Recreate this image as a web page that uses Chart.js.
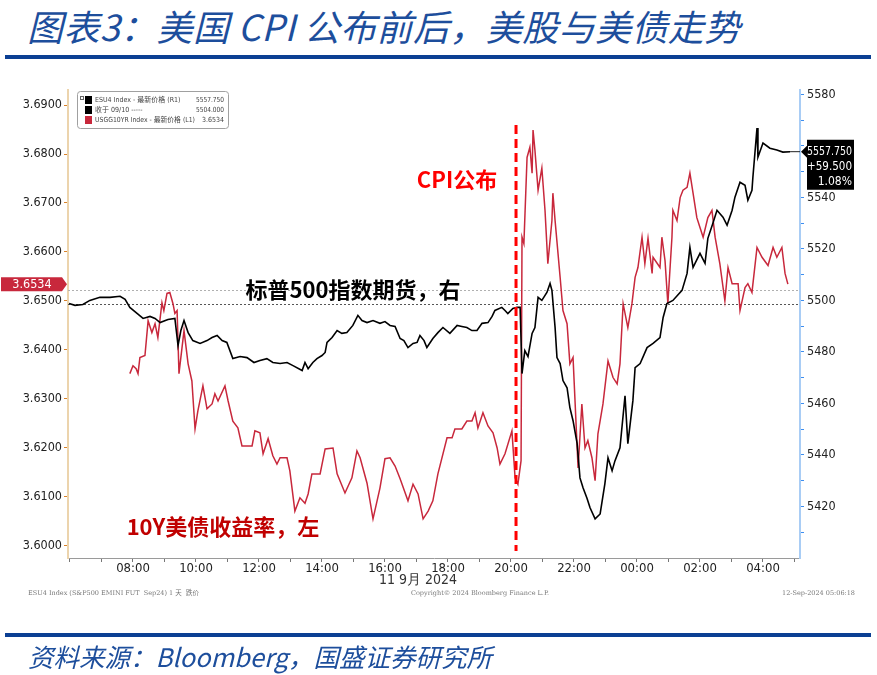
<!DOCTYPE html>
<html><head><meta charset="utf-8">
<script src="https://cdn.jsdelivr.net/npm/chart.js@4.4.1/dist/chart.umd.min.js"></script>
<style>
html,body{margin:0;padding:0;background:#fff;}
body{width:877px;height:675px;position:relative;overflow:hidden;font-family:"Noto Sans CJK SC",sans-serif;}
#title{position:absolute;left:27px;top:-1px;font-size:36px;font-style:italic;color:#1d4e9c;white-space:nowrap;letter-spacing:0.4px;}
.rule{position:absolute;left:5px;width:866px;height:4px;background:#0b3f93;}
#src{position:absolute;left:28px;top:637px;font-size:25.5px;font-style:italic;color:#1d4e9c;white-space:nowrap;}
#wrap{position:absolute;left:0;top:0;width:877px;height:675px;}
</style></head>
<body>
<div id="title">图表3：美国 CPI 公布前后，美股与美债走势</div>
<div class="rule" style="top:55px"></div>
<div id="wrap"><canvas id="c" width="877" height="675"></canvas></div>
<div class="rule" style="top:633px"></div>
<div id="src">资料来源：Bloomberg，国盛证券研究所</div>
<script>
// ---- data (hours since 00:00 on 11 Sep 2024, Beijing time; >24 = next day) ----
const esHours = [
 5.97,6.16,6.41,6.63,6.95,7.27,7.59,7.75,7.90,8.10,
 8.32,8.54,8.70,8.86,9.11,9.33,9.43,9.52,9.62,9.75,
 9.90,10.13,10.35,10.51,10.67,10.83,10.98,11.17,11.40,11.62,
 11.84,12.03,12.25,12.44,12.67,12.89,13.08,13.37,13.46,13.56,
 13.71,13.84,14.00,14.10,14.16,14.32,14.48,14.63,14.79,14.98,
 15.14,15.27,15.43,15.62,15.84,16.00,16.16,16.32,16.48,16.60,
 16.73,16.89,17.02,17.11,17.24,17.33,17.52,17.68,17.84,18.06,
 18.29,18.44,18.60,18.76,18.92,19.08,19.27,19.40,19.49,19.71,
 19.81,19.90,20.06,20.19,20.29,20.35,20.44,20.54,20.67,20.76,
 20.86,20.98,21.14,21.24,21.30,21.40,21.46,21.56,21.65,21.78,
 21.87,21.97,22.10,22.19,22.29,22.41,22.51,22.67,22.83,22.98,
 23.08,23.21,23.30,23.46,23.62,23.71,23.87,23.94,24.10,24.32,
 24.51,24.73,24.83,24.95,25.14,25.43,25.59,25.68,25.78,26.00,
 26.16,26.25,26.41,26.54,26.73,26.86,27.02,27.11,27.27,27.43,
 27.52,27.65,27.68,27.81,27.84,28.00,28.22,28.44,28.63,28.86
];
const esValues = [
 5498.8,5498.1,5498.4,5500.0,5501.2,5501.2,5501.6,5500.4,5497.3,5495.3,
 5493.0,5493.8,5493.0,5491.4,5492.6,5493.0,5482.5,5488.3,5492.2,5487.5,
 5484.4,5483.3,5484.4,5485.6,5486.4,5484.4,5483.7,5477.4,5478.2,5477.8,
 5475.9,5476.7,5477.4,5475.9,5475.5,5475.9,5474.7,5472.8,5475.9,5473.5,
 5475.9,5477.4,5478.6,5479.8,5483.7,5485.6,5488.3,5487.2,5487.5,5490.3,
 5494.2,5492.2,5491.4,5492.2,5491.1,5491.8,5490.3,5489.9,5485.2,5484.4,
 5481.7,5483.3,5483.7,5486.4,5484.4,5481.7,5485.2,5487.5,5489.5,5487.2,
 5490.3,5489.9,5489.5,5488.3,5488.3,5491.1,5491.4,5493.8,5496.1,5497.3,
 5496.1,5494.9,5496.9,5497.3,5497.3,5471.6,5480.5,5478.2,5487.2,5489.5,
 5501.2,5500.0,5503.1,5506.6,5503.9,5489.5,5477.8,5475.5,5468.9,5466.1,
 5458.4,5453.3,5444.4,5431.1,5427.2,5423.3,5419.5,5415.2,5417.1,5428.8,
 5438.9,5433.9,5437.7,5442.8,5463.0,5444.4,5461.1,5473.9,5475.5,5481.7,
 5483.3,5485.6,5493.4,5498.8,5500.0,5503.9,5510.5,5520.6,5512.8,5518.3,
 5514.4,5524.1,5530.0,5535.0,5532.3,5529.2,5535.0,5540.1,5545.9,5544.7,
 5538.9,5542.8,5547.9,5566.9,5555.6,5561.1,5559.1,5558.4,5557.6,5557.75
];
const ustHours = [
 7.90,8.00,8.10,8.16,8.22,8.38,8.48,8.60,8.70,8.79,
 8.92,8.98,9.08,9.17,9.27,9.33,9.40,9.46,9.62,9.75,
 9.87,9.97,10.06,10.22,10.35,10.51,10.60,10.70,10.92,11.02,
 11.17,11.33,11.46,11.78,11.87,12.03,12.13,12.29,12.44,12.57,
 12.67,12.89,12.98,13.14,13.30,13.46,13.56,13.68,13.94,14.10,
 14.35,14.48,14.73,14.95,15.11,15.21,15.43,15.62,15.84,16.00,
 16.16,16.32,16.48,16.73,16.89,17.05,17.21,17.37,17.52,17.68,
 17.97,18.13,18.22,18.44,18.60,18.76,18.86,18.95,19.11,19.27,
 19.43,19.56,19.65,19.81,20.03,20.13,20.22,20.32,20.35,20.41,
 20.51,20.60,20.67,20.70,20.76,20.86,20.98,21.08,21.17,21.30,
 21.33,21.40,21.56,21.65,21.78,21.87,21.97,22.13,22.25,22.35,
 22.44,22.57,22.67,22.76,22.92,23.08,23.24,23.37,23.46,23.56,
 23.71,23.84,23.94,24.03,24.16,24.25,24.35,24.48,24.51,24.73,
 24.79,24.89,24.98,25.11,25.14,25.27,25.37,25.46,25.59,25.68,
 25.78,25.90,26.00,26.10,26.25,26.38,26.48,26.63,26.79,26.89,
 27.02,27.21,27.27,27.43,27.52,27.65,27.81,27.97,28.16,28.32,
 28.44,28.60,28.70,28.79
];
const ustValues = [
 3.6351,3.6367,3.6361,3.6351,3.6384,3.6388,3.6459,3.6435,3.6453,3.6425,
 3.6496,3.6480,3.6515,3.6517,3.6494,3.6474,3.6480,3.6351,3.6439,3.6371,
 3.6336,3.6238,3.6275,3.6326,3.6279,3.6289,3.6310,3.6295,3.6326,3.6295,
 3.6254,3.6240,3.6203,3.6203,3.6234,3.6230,3.6187,3.6218,3.6183,3.6166,
 3.6179,3.6179,3.6152,3.6070,3.6097,3.6086,3.6105,3.6146,3.6146,3.6197,
 3.6199,3.6146,3.6107,3.6138,3.6193,3.6179,3.6127,3.6054,3.6117,3.6177,
 3.6179,3.6162,3.6136,3.6091,3.6125,3.6105,3.6054,3.6070,3.6091,3.6146,
 3.6220,3.6220,3.6238,3.6238,3.6254,3.6254,3.6271,3.6240,3.6271,3.6244,
 3.6230,3.6199,3.6166,3.6187,3.6234,3.6138,3.6125,3.6173,3.6630,3.6617,
 3.6793,3.6814,3.6761,3.6849,3.6808,3.6726,3.6771,3.6685,3.6576,3.6664,
 3.6720,3.6664,3.6548,3.6480,3.6453,3.6371,3.6384,3.6158,3.6289,3.6199,
 3.6214,3.6179,3.6132,3.6228,3.6289,3.6377,3.6343,3.6330,3.6371,3.6494,
 3.6445,3.6494,3.6548,3.6568,3.6630,3.6576,3.6628,3.6556,3.6589,3.6568,
 3.6630,3.6582,3.6494,3.6630,3.6685,3.6664,3.6711,3.6726,3.6732,3.6761,
 3.6720,3.6670,3.6650,3.6630,3.6670,3.6685,3.6630,3.6576,3.6500,3.6568,
 3.6535,3.6535,3.6480,3.6527,3.6535,3.6517,3.6609,3.6589,3.6572,3.6609,
 3.6589,3.6609,3.6556,3.6534
];
const xTickHours = [6,7,8,9,10,11,12,13,14,15,16,17,18,19,20,21,22,23,24,25,26,27,28,29];
const xLabelHours = [8,10,12,14,16,18,20,22,24,26,28];
const leftTicks = [3.60,3.61,3.62,3.63,3.64,3.65,3.66,3.67,3.68,3.69];
const rightTicks = [5410,5420,5430,5440,5450,5460,5470,5480,5490,5500,5510,5520,5530,5540,5550,5560,5570,5580];
const rightLabelTicks = [5420,5440,5460,5480,5500,5520,5540,5560,5580];
const cpiHour = 20.16;
const esLast = 5557.750, esChange = 59.500, esPct = 1.08;
const esPrevClose = 5504.000;
const ustLast = 3.6534;
const legendRows = [
  {name:'ESU4 Index - 最新价格 (R1)', value:'5557.750', color:'#000'},
  {name:'收于 09/10 -----', value:'5504.000', color:'#000'},
  {name:'USGG10YR Index - 最新价格 (L1)', value:'3.6534', color:'#c8283c'}
];
// ---------------------------------------------------------------

const RED = '#c8283c';
const NARROW = '"DejaVu Sans Condensed","Liberation Sans Narrow",sans-serif';
const tickFont = {family:NARROW, size:12.5};

function hhmm(h){ const v=((h%24)+24)%24; return String(v).padStart(2,'0')+':00'; }
function fitText(ctx, txt, x, y, maxW){
  const w = ctx.measureText(txt).width;
  if (w <= maxW) { ctx.fillText(txt, x, y); return; }
  ctx.save(); ctx.translate(x, y); ctx.scale(maxW/w, 1); ctx.fillText(txt, 0, 0); ctx.restore();
}

const overlay = {
  id:'overlay',
  beforeDatasetsDraw(chart){
    const {ctx, chartArea:a, scales} = chart;
    ctx.save();
    ctx.lineWidth = 1;
    ctx.setLineDash([2,2]);
    ctx.strokeStyle = '#b0b0b0';
    let y = Math.round(scales.yR.getPixelForValue(esPrevClose))+0.5;
    ctx.beginPath(); ctx.moveTo(a.left,y); ctx.lineTo(a.right,y); ctx.stroke();
    ctx.strokeStyle = '#555';
    y = Math.round(scales.yR.getPixelForValue(esValues[0]))+0.5;
    ctx.beginPath(); ctx.moveTo(a.left,y); ctx.lineTo(a.right,y); ctx.stroke();
    ctx.restore();
  },
  afterDatasetsDraw(chart){
    const {ctx, chartArea:a, scales} = chart;
    const X = scales.x, YL = scales.yL, YR = scales.yR;
    ctx.save();
    // last value connector
    const lx = X.getPixelForValue(esHours[esHours.length-1]);
    const ly = YR.getPixelForValue(esLast);
    ctx.strokeStyle='#222'; ctx.lineWidth=1;
    ctx.beginPath(); ctx.moveTo(lx,ly); ctx.lineTo(a.right,ly); ctx.stroke();
    // CPI dashed line
    const cx = X.getPixelForValue(cpiHour);
    ctx.strokeStyle='#ff0000'; ctx.lineWidth=3; ctx.setLineDash([9,5]);
    ctx.beginPath(); ctx.moveTo(cx, a.top+35); ctx.lineTo(cx, a.bottom-7); ctx.stroke();
    ctx.setLineDash([]);

    // right black value box
    const bx = a.right+1, by = ly-12, bw = 53;
    ctx.fillStyle='#000';
    ctx.beginPath();
    ctx.moveTo(bx, ly); ctx.lineTo(bx+6, ly-6); ctx.lineTo(bx+6, by); ctx.lineTo(bx+bw, by);
    ctx.lineTo(bx+bw, by+50); ctx.lineTo(bx+6, by+50); ctx.lineTo(bx+6, ly+6); ctx.closePath(); ctx.fill();
    ctx.fillStyle='#fff'; ctx.font='12px '+NARROW;
    ctx.textAlign='right'; ctx.textBaseline='middle';
    fitText(ctx, esLast.toFixed(3), bx+bw-2, ly, 45);
    fitText(ctx, '+'+esChange.toFixed(3), bx+bw-2, ly+15, 45);
    fitText(ctx, esPct.toFixed(2)+'%', bx+bw-2, ly+30, 45);

    // left red value box
    const ry = YL.getPixelForValue(ustLast);
    ctx.fillStyle=RED;
    ctx.beginPath();
    ctx.moveTo(1, ry-7); ctx.lineTo(62, ry-7); ctx.lineTo(67, ry); ctx.lineTo(62, ry+7); ctx.lineTo(1, ry+7); ctx.closePath(); ctx.fill();
    ctx.fillStyle='#fff'; ctx.textAlign='center'; ctx.font='12.5px '+NARROW;
    ctx.fillText(ustLast.toFixed(4), 32, ry+0.5);

    // legend box
    const gx=77, gy=91, gw=151, gh=37;
    ctx.fillStyle='#fff'; ctx.strokeStyle='#a0a0a0'; ctx.lineWidth=1;
    ctx.beginPath(); ctx.roundRect(gx+0.5,gy+0.5,gw,gh,3); ctx.fill(); ctx.stroke();
    ctx.font='7px "DejaVu Sans Condensed","Noto Sans CJK SC",sans-serif'; ctx.textBaseline='middle';
    legendRows.forEach((r,i)=>{
      const yy = gy+9+i*10;
      ctx.fillStyle=r.color; ctx.fillRect(gx+8, yy-4, 7, 8);
      ctx.fillStyle='#444'; ctx.textAlign='left'; fitText(ctx, r.name, gx+18, yy, 100);
      ctx.textAlign='right'; fitText(ctx, r.value, gx+gw-4, yy, 28);
    });
    ctx.strokeStyle='#666'; ctx.strokeRect(gx+3.5, gy+5.5, 3, 3);

    // annotations
    ctx.font='bold 22px "Noto Sans CJK SC",sans-serif'; ctx.textAlign='center'; ctx.textBaseline='middle';
    ctx.fillStyle='#ff0000'; ctx.fillText('CPI公布', 457, 180);
    ctx.fillStyle='#000'; ctx.fillText('标普500指数期货，右', 353, 290);
    ctx.fillStyle='#c00000'; ctx.fillText('10Y美债收益率，左', 223, 527);

    // axis caption & footer
    ctx.fillStyle='#333'; ctx.font='14px '+NARROW;
    ctx.fillText('11 9月 2024', 418, 580);
    ctx.fillStyle='#777'; ctx.font='6.5px "DejaVu Serif","Noto Sans CJK SC",serif';
    ctx.textAlign='left'; ctx.fillText('ESU4 Index (S&P500 EMINI FUT  Sep24) 1 天  跌价', 28, 593);
    ctx.textAlign='center'; ctx.fillText('Copyright© 2024 Bloomberg Finance L.P.', 480, 593);
    ctx.textAlign='right'; ctx.fillText('12-Sep-2024 05:06:18', 855, 593);
    ctx.restore();
  }
};

const ctx = document.getElementById('c').getContext('2d');
new Chart(ctx, {
  type:'line',
  data:{
    datasets:[
      {label:'ESU4 Index', data: esHours.map((h,i)=>({x:h,y:esValues[i]})), yAxisID:'yR',
       borderColor:'#000', borderWidth:1.6, pointRadius:0, tension:0},
      {label:'USGG10YR Index', data: ustHours.map((h,i)=>({x:h,y:ustValues[i]})), yAxisID:'yL',
       borderColor:RED, borderWidth:1.5, pointRadius:0, tension:0}
    ]
  },
  options:{
    responsive:false, animation:false, devicePixelRatio:1,
    layout:{padding:{top:90,left:0,right:0,bottom:0}},
    plugins:{legend:{display:false}, tooltip:{enabled:false}},
    scales:{
      x:{type:'linear', min:5.937, max:29.175,
         afterBuildTicks:s=>{s.ticks = xTickHours.map(v=>({value:v}));},
         afterFit:s=>{s.height=117;},
         ticks:{autoSkip:false, maxRotation:0, padding:-1, color:'#222', font:{family:NARROW, size:13},
                callback:v=> xLabelHours.includes(v)? hhmm(v):''},
         grid:{drawOnChartArea:false, drawTicks:true, tickLength:4, tickColor:'#777'},
         border:{display:true, color:'#9a9a9a', width:1}},
      yL:{type:'linear', position:'left', min:3.5974, max:3.6931,
         afterBuildTicks:s=>{s.ticks = leftTicks.map(v=>({value:v}));},
         afterFit:s=>{s.width=68;},
         ticks:{autoSkip:false, padding:2, color:'#222', font:tickFont, callback:v=>Number(v).toFixed(4)},
         grid:{drawOnChartArea:false, drawTicks:true, tickLength:4, tickColor:'#d9822b'},
         border:{display:true, color:'#ecd4ad', width:2}},
      yR:{type:'linear', position:'right', min:5400, max:5581.7,
         afterBuildTicks:s=>{s.ticks = rightTicks.map(v=>({value:v}));},
         afterFit:s=>{s.width=77;},
         ticks:{autoSkip:false, padding:3, color:'#222', font:tickFont,
                callback:v=> rightLabelTicks.includes(v)? String(v):''},
         grid:{drawOnChartArea:false, drawTicks:true, tickLength:4, tickColor:'#3d8ef0'},
         border:{display:true, color:'#a9cdf5', width:2}}
    }
  },
  plugins:[overlay]
});
</script>
</body></html>
